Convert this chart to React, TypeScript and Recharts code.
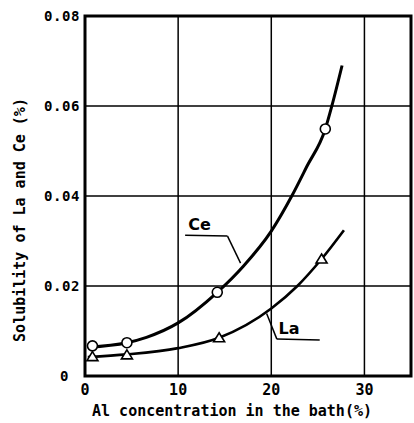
import React from "react";
import {
  ComposedChart,
  Line,
  Scatter,
  XAxis,
  YAxis,
  CartesianGrid,
  ReferenceArea,
  ReferenceLine,
  ReferenceDot,
} from "recharts";

// curve points
const ceCurveX = [0.3, 4.5, 6.6, 10, 14.2, 17, 20, 22.2, 23.8, 25.8, 26.5, 27.6];
const ceCurveY = [0.0064, 0.0074, 0.0086, 0.0118, 0.0186, 0.0244, 0.0322, 0.04, 0.0465, 0.0549, 0.06, 0.069];
const laCurveX = [0.3, 4.5, 10, 14.4, 20, 22.8, 25.4, 27.8];
const laCurveY = [0.0042, 0.0048, 0.0062, 0.0085, 0.015, 0.02, 0.026, 0.0324];

// measured points
const ceMarkX = [0.8, 4.5, 14.2, 25.8];
const ceMarkY = [0.0067, 0.0074, 0.0186, 0.0549];
const laMarkX = [0.8, 4.5, 14.4, 25.4];
const laMarkY = [0.0043, 0.0047, 0.0085, 0.026];

const xTicks = [0, 10, 20, 30];
const yTicks = [0, 0.02, 0.04, 0.06, 0.08];

const toPts = (xs: number[], ys: number[]) => xs.map((x, i) => ({ x, y: ys[i] }));
const ceCurve = toPts(ceCurveX, ceCurveY);
const laCurve = toPts(laCurveX, laCurveY);
const ceMarks = toPts(ceMarkX, ceMarkY);
const laMarks = toPts(laMarkX, laMarkY);

const mono = "'DejaVu Sans Mono', monospace";

const YTick = (props: any) => {
  const { x, y, payload } = props;
  const v = payload.value;
  return (
    <text x={v === 0 ? x - 8 : x + 3} y={y} dy={5} textAnchor="end" fontFamily={mono} fontWeight="bold" fontSize={14} letterSpacing={0.6} fill="#000">
      {v === 0 ? "0" : v.toFixed(2)}
    </text>
  );
};

const Circle = (props: any) => (
  <circle cx={props.cx} cy={props.cy} r={5} fill="#fff" stroke="#000" strokeWidth={1.6} />
);

const Tri = (props: any) => {
  const { cx, cy } = props;
  return (
    <path d={`M${cx},${cy - 5} L${cx + 5.5},${cy + 4} L${cx - 5.5},${cy + 4} Z`} fill="#fff" stroke="#000" strokeWidth={1.6} />
  );
};

export default function App() {
  return (
    <div style={{ position: "absolute", left: 0, top: 0, width: 414, height: 423, background: "#fff" }}>
      <ComposedChart width={414} height={423} margin={{ top: 16, right: 3, bottom: 0, left: 0 }}>
        <CartesianGrid stroke="#000" strokeWidth={1.5} />
        <XAxis
          type="number"
          dataKey="x"
          domain={[0, 35]}
          ticks={xTicks}
          height={47}
          axisLine={false}
          tickLine={false}
          tick={{ fontFamily: mono, fontWeight: "bold", fontSize: 15, fill: "#000" }}
          allowDataOverflow
        />
        <YAxis
          type="number"
          dataKey="y"
          domain={[0, 0.08]}
          ticks={yTicks}
          width={85}
          axisLine={false}
          tickLine={false}
          tick={<YTick />}
          allowDataOverflow
        />
        <ReferenceArea x1={0} x2={35} y1={0} y2={0.08} fill="none" stroke="#000" strokeWidth={3} />
        <Line data={ceCurve} dataKey="y" type="monotone" stroke="#000" strokeWidth={3} dot={false} isAnimationActive={false} />
        <Line data={laCurve} dataKey="y" type="monotone" stroke="#000" strokeWidth={2.6} dot={false} isAnimationActive={false} />
        <Scatter data={ceMarks} dataKey="y" shape={<Circle />} isAnimationActive={false} />
        <Scatter data={laMarks} dataKey="y" shape={<Tri />} isAnimationActive={false} />

        <ReferenceLine segment={[{ x: 10.75, y: 0.0313 }, { x: 15.3, y: 0.0311 }]} stroke="#000" strokeWidth={1.5} />
        <ReferenceLine segment={[{ x: 15.3, y: 0.0311 }, { x: 16.7, y: 0.0251 }]} stroke="#000" strokeWidth={1.5} />
        <ReferenceLine segment={[{ x: 19.5, y: 0.0139 }, { x: 20.6, y: 0.0082 }]} stroke="#000" strokeWidth={1.5} />
        <ReferenceLine segment={[{ x: 20.6, y: 0.0082 }, { x: 25.2, y: 0.008 }]} stroke="#000" strokeWidth={1.5} />
        <ReferenceDot x={12.3} y={0.0338} r={0} stroke="none" label={{ value: "Ce", position: "center", fontFamily: "'DejaVu Sans', sans-serif", fontWeight: "bold", fontSize: 16, fill: "#000" }} />
        <ReferenceDot x={21.9} y={0.0107} r={0} stroke="none" label={{ value: "La", position: "center", fontFamily: "'DejaVu Sans', sans-serif", fontWeight: "bold", fontSize: 16, fill: "#000" }} />
      </ComposedChart>
      <svg width={414} height={423} style={{ position: "absolute", left: 0, top: 0, pointerEvents: "none" }}>
        <text x={232} y={416} textAnchor="middle" fontFamily={mono} fontWeight="bold" fontSize={15} fill="#000">
          Al concentration in the bath(%)
        </text>
        <text x={25} y={220} textAnchor="middle" transform="rotate(-90 25 220)" fontFamily={mono} fontWeight="bold" fontSize={15} fill="#000">
          Solubility of La and Ce (%)
        </text>
      </svg>
    </div>
  );
}
